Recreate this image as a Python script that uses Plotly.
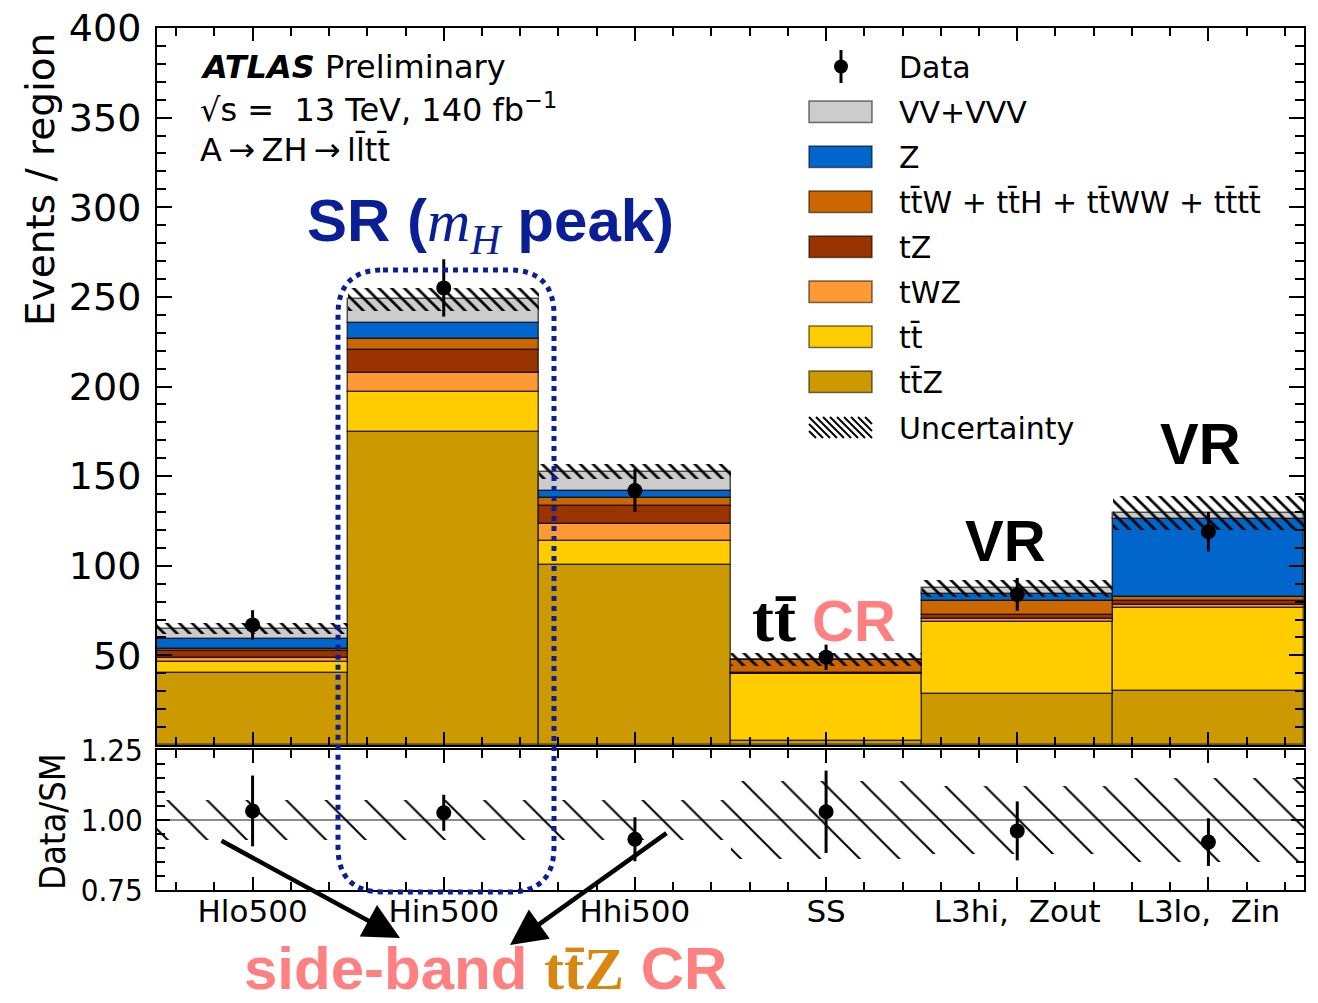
import numpy as np
import plotly.graph_objects as go

W, H = 1318, 1003

# ---- region yields -------------------------------------------------------
regions = ["Hlo500", "Hin500", "Hhi500", "SS", "L3hi,\u00a0 Zout", "L3lo,\u00a0 Zin"]

ttz_yield = [40.3, 174.4, 100.2, 2.2, 28.3, 30.1]
ttbar_yield = [5.8, 22.5, 13.8, 37.2, 40.5, 46.5]
twz_yield = [2.3, 10.6, 9.3, 0.3, 1.3, 1.5]
tz_yield = [4.0, 12.9, 10.0, 0.3, 2.4, 2.4]
ttx_yield = [1.1, 6.3, 4.3, 7.2, 8.0, 2.2]
zjets_yield = [5.8, 8.9, 4.1, 0.2, 3.7, 43.2]
vv_yield = [5.6, 13.0, 10.8, 0.2, 3.2, 3.3]

data_obs = [67, 255, 142, 49, 84, 119]
data_err = [8.2, 16.0, 12.0, 7.0, 9.2, 11.0]
bkg_unc = [3.0, 6.5, 4.0, 3.5, 4.8, 9.5]
ratio_band = [0.072, 0.072, 0.072, 0.14, 0.12, 0.15]

TB = "t\u0304"  # t with bar
samples = [  # bottom of the stack first
    (f"t{TB}Z", ttz_yield, "#CC9900"),
    (f"t{TB}", ttbar_yield, "#FFCC00"),
    ("tWZ", twz_yield, "#FF9933"),
    ("tZ", tz_yield, "#993300"),
    (f"t{TB}W + t{TB}H + t{TB}WW + t{TB}t{TB}", ttx_yield, "#CC6600"),
    ("Z", zjets_yield, "#0066CC"),
    ("VV+VVV", vv_yield, "#CCCCCC"),
]

xc = np.arange(len(regions)) + 0.5


def px(x):
    return x / W


def py(y):
    return 1 - y / H


fig = go.Figure()

# stacked backgrounds
base = np.zeros(len(regions))
for name, vals, color in samples:
    vals = np.asarray(vals, dtype=float)
    fig.add_trace(go.Bar(
        x=xc, y=vals, base=base.copy(), width=1.0, name=name,
        marker=dict(color=color, line=dict(color="rgba(0,0,0,0.65)", width=1.5)),
        xaxis="x", yaxis="y", showlegend=False, hoverinfo="skip"))
    base += vals
total = base.copy()

# total uncertainty band
unc = np.asarray(bkg_unc)
fig.add_trace(go.Bar(
    x=xc, y=2 * unc, base=total - unc, width=1.0, name="Uncertainty",
    marker=dict(color="rgba(0,0,0,0)", line=dict(width=0),
                pattern=dict(shape="\\", fgcolor="black", bgcolor="rgba(0,0,0,0)",
                             size=9, solidity=0.3, fillmode="replace")),
    xaxis="x", yaxis="y", showlegend=False, hoverinfo="skip"))

# data
fig.add_trace(go.Scatter(
    x=xc, y=data_obs, mode="markers", name="Data",
    marker=dict(color="black", size=15),
    error_y=dict(type="data", array=data_err, color="black", thickness=3, width=0),
    xaxis="x", yaxis="y", showlegend=False))

# ratio panel
rb = np.asarray(ratio_band)
fig.add_trace(go.Bar(
    x=xc, y=2 * rb, base=1 - rb, width=1.0,
    marker=dict(color="rgba(0,0,0,0)", line=dict(width=0),
                pattern=dict(shape="\\", fgcolor="black", bgcolor="rgba(0,0,0,0)",
                             size=28, solidity=0.07, fillmode="replace")),
    xaxis="x2", yaxis="y2", showlegend=False, hoverinfo="skip"))

ratio = np.asarray(data_obs) / total
ratio_err = np.asarray(data_err) / total
fig.add_trace(go.Scatter(
    x=xc, y=ratio, mode="markers",
    marker=dict(color="black", size=15),
    error_y=dict(type="data", array=ratio_err, color="black", thickness=3, width=0),
    xaxis="x2", yaxis="y2", showlegend=False))

# empty trace that carries a full-page pixel frame used for the decorations
fig.add_trace(go.Scatter(x=[None], y=[None], mode="markers", xaxis="x3", yaxis="y3",
                         showlegend=False, hoverinfo="skip"))

# ---- axes -----------------------------------------------------------------
XD = [px(157), px(1304)]
axis_common = dict(showline=True, linecolor="black", linewidth=2, mirror="allticks",
                   ticks="inside", tickcolor="black", tickwidth=2, showgrid=False,
                   zeroline=False, automargin=False)
tick_font = dict(family="DejaVu Sans", size=38, color="black")
ratio_font = dict(family="DejaVu Sans Condensed, DejaVu Sans", size=31, color="black")

fig.update_layout(
    width=W, height=H, margin=dict(l=0, r=0, t=0, b=0, pad=0),
    paper_bgcolor="white", plot_bgcolor="rgba(0,0,0,0)",
    barmode="overlay", bargap=0, showlegend=False,
    xaxis=dict(domain=XD, range=[0, 6], anchor="y", tickvals=list(xc),
               showticklabels=False, ticklen=13,
               minor=dict(ticks="inside", dtick=0.2, tick0=0.1, ticklen=8,
                          tickwidth=1.5, tickcolor="black"),
               **axis_common),
    yaxis=dict(domain=[py(745), py(28)], range=[0, 400], anchor="x",
               tickvals=list(range(50, 401, 50)), tickfont=tick_font, ticklen=15,
               ticklabelstandoff=6,
               minor=dict(ticks="inside", dtick=10, ticklen=9, tickwidth=1.5,
                          tickcolor="black"),
               **axis_common),
    xaxis2=dict(domain=XD, range=[0, 6], anchor="y2", tickvals=list(xc),
                ticktext=regions, ticklen=13, ticklabelstandoff=-7,
                tickfont=dict(family="DejaVu Sans", size=31, color="black"),
                minor=dict(ticks="inside", dtick=0.2, tick0=0.1, ticklen=8,
                           tickwidth=1.5, tickcolor="black"),
                **axis_common),
    yaxis2=dict(domain=[py(890), py(750)], range=[0.75, 1.25], anchor="x2",
                tickvals=[0.75, 1.0, 1.25], ticktext=["0.75", "1.00", "1.25"],
                tickfont=ratio_font, ticklen=13, ticklabelstandoff=6,
                minor=dict(ticks="inside", dtick=0.05, ticklen=8, tickwidth=1.5,
                           tickcolor="black"),
                **axis_common),
    xaxis3=dict(domain=[0, 1], range=[0, W], anchor="y3", visible=False,
                fixedrange=True, automargin=False),
    yaxis3=dict(domain=[0, 1], range=[H, 0], anchor="x3", visible=False,
                fixedrange=True, automargin=False),
)

shapes = []
annotations = []
PX = dict(xref="x3", yref="y3")

# unity line in the ratio panel
shapes.append(dict(type="line", xref="x2", yref="y2", x0=0, x1=6, y0=1, y1=1,
                   line=dict(color="rgba(0,0,0,0.45)", width=2), layer="above"))

# axis titles
annotations.append(dict(text="Events / region", x=40, y=180, textangle=-90,
                        showarrow=False,
                        font=dict(family="DejaVu Sans", size=39, color="black"), **PX))
annotations.append(dict(text="Data/SM", x=52, y=822, textangle=-90, showarrow=False,
                        font=dict(family="DejaVu Sans Condensed, DejaVu Sans", size=36,
                                  color="black"), **PX))

# experiment label
lab_font = dict(family="DejaVu Sans", size=32, color="black")
for txt, yy in [("<b><i>ATLAS</i></b> Preliminary", 67),
                ("\u221as =  13 TeV, 140 fb<sup>\u22121</sup>", 108),
                (f"A\u2009\u2192\u2009ZH\u2009\u2192\u2009ll\u0304t{TB}", 149)]:
    annotations.append(dict(text=txt, x=198, y=yy, xanchor="left", yanchor="middle",
                            showarrow=False, font=lab_font, **PX))

# legend
leg_font = dict(family="DejaVu Sans", size=30, color="black")
LX0, LX1, TX = 809, 872, 897
shapes.append(dict(type="line", x0=841, x1=841, y0=50, y1=83,
                   line=dict(color="black", width=3), **PX))
shapes.append(dict(type="circle", x0=834, x1=848, y0=59.5, y1=73.5, fillcolor="black",
                   line=dict(width=0), **PX))
annotations.append(dict(text="Data", x=TX, y=67, xanchor="left", yanchor="middle",
                        showarrow=False, font=leg_font, **PX))

for i, (name, _, color) in enumerate(reversed(samples)):
    yt = 101 + 45 * i
    shapes.append(dict(type="rect", x0=LX0, x1=LX1, y0=yt, y1=yt + 21.5, fillcolor=color,
                       line=dict(color="rgba(0,0,0,0.55)", width=1.5), **PX))
    annotations.append(dict(text=name, x=TX, y=yt + 11, xanchor="left", yanchor="middle",
                            showarrow=False, font=leg_font, **PX))

# hatched legend key
ht, hb = 417, 438
step = 7
a = LX0 - (hb - ht)
while a < LX1:
    xs, ys = a, ht
    xe, ye = a + (hb - ht), hb
    if xs < LX0:
        ys += LX0 - xs
        xs = LX0
    if xe > LX1:
        ye -= xe - LX1
        xe = LX1
    if xe > xs:
        shapes.append(dict(type="line", x0=xs, y0=ys, x1=xe, y1=ye,
                           line=dict(color="black", width=2), **PX))
    a += step
annotations.append(dict(text="Uncertainty", x=TX, y=428, xanchor="left",
                        yanchor="middle", showarrow=False, font=leg_font, **PX))

# region callouts
NAVY = "#0A1E96"
SALMON = "#FF8080"
SANS = "Liberation Sans, Arial, sans-serif"
SERIF = "font-family:Liberation Serif, Times New Roman, serif"
annotations.append(dict(
    text=(f"<b>SR (</b><span style='{SERIF}'><i>m</i><sub><i>H</i></sub></span>"
          "<b> peak)</b>"),
    x=490, y=225, xanchor="center", yanchor="middle", showarrow=False,
    font=dict(family=SANS, size=60, color=NAVY), **PX))
annotations.append(dict(
    text=(f"<span style='{SERIF};color:black;font-size:66px'><b>t{TB}</b></span>"
          " <b>CR</b>"),
    x=824, y=618, xanchor="center", yanchor="middle", showarrow=False,
    font=dict(family=SANS, size=58, color=SALMON), **PX))
for xx, yy in [(1005, 540), (1200, 443)]:
    annotations.append(dict(text="<b>VR</b>", x=xx, y=yy, xanchor="center",
                            yanchor="middle", showarrow=False,
                            font=dict(family=SANS, size=58, color="black"), **PX))
annotations.append(dict(
    text=(f"<b>side-band </b><span style='{SERIF};color:#D8860F'><b>t{TB}Z</b></span>"
          "<b> CR</b>"),
    x=485, y=968, xanchor="center", yanchor="middle", showarrow=False,
    font=dict(family=SANS, size=60, color=SALMON), **PX))

# arrows pointing to the side-band regions
for (tx, ty), (hx, hy) in [((220, 840), (400, 938)), ((668, 832), (510, 945))]:
    annotations.append(dict(text="", x=hx, y=hy, ax=tx, ay=ty, axref="x3", ayref="y3",
                            showarrow=True, arrowhead=2, arrowsize=1.6, arrowwidth=4.5,
                            arrowcolor="black", **PX))

# dotted rounded box around the signal region
x0, y0, x1, y1, r = 338, 270, 554, 892, 45
path = (f"M{x0 + r},{y0} L{x1 - r},{y0} Q{x1},{y0} {x1},{y0 + r} "
        f"L{x1},{y1 - r} Q{x1},{y1} {x1 - r},{y1} L{x0 + r},{y1} "
        f"Q{x0},{y1} {x0},{y1 - r} L{x0},{y0 + r} Q{x0},{y0} {x0 + r},{y0} Z")
shapes.append(dict(type="path", path=path, line=dict(color=NAVY, width=5, dash="dot"),
                   layer="above", **PX))

fig.update_layout(shapes=shapes, annotations=annotations)
fig.write_html("out.html")
